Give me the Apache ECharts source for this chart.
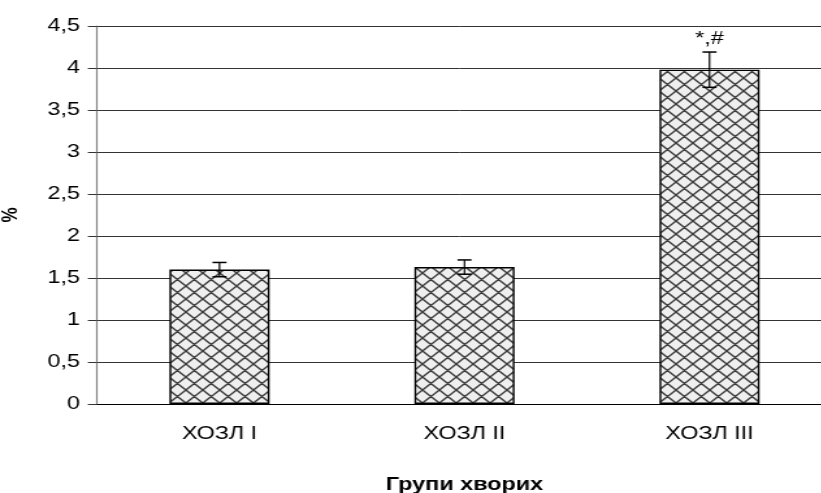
<!DOCTYPE html>
<html>
<head>
<meta charset="utf-8">
<script src="https://cdn.jsdelivr.net/npm/echarts@6/dist/echarts.min.js"></script>
<style>
  html, body { margin: 0; padding: 0; background: #fff; overflow: hidden; }
  /* the chart is laid out narrower and widened horizontally, giving the broad lettering */
  #chart { width: 632px; height: 493px; transform: scaleX(1.3); transform-origin: 0 0; }
</style>
</head>
<body>
<div id="chart"></div>
<script>
// Patient groups and mean percentages with their error margins
const categories = ['ХОЗЛ I', 'ХОЗЛ II', 'ХОЗЛ III'];
const values = [1.6, 1.63, 3.98];
const errors = [0.085, 0.085, 0.21];
const marks = ['', '', '*,#'];
const yTicks = [0, 0.5, 1, 1.5, 2, 2.5, 3, 3.5, 4, 4.5];

// Cross-hatch fill tile for the bars
function hatchTile() {
  const s = 13;
  const c = document.createElement('canvas');
  c.width = s; c.height = s;
  const g = c.getContext('2d');
  g.fillStyle = '#efefef';
  g.fillRect(0, 0, s, s);
  g.strokeStyle = '#3a3a3a';
  g.lineWidth = 1.4;
  g.beginPath();
  g.moveTo(0, 0); g.lineTo(s, s);
  g.moveTo(s, 0); g.lineTo(0, s);
  g.moveTo(-s / 2, s / 2); g.lineTo(s / 2, s * 1.5);
  g.moveTo(s / 2, -s / 2); g.lineTo(s * 1.5, s / 2);
  g.moveTo(s / 2, -s / 2); g.lineTo(-s / 2, s / 2);
  g.moveTo(s * 1.5, s / 2); g.lineTo(s / 2, s * 1.5);
  g.stroke();
  return c;
}

const chart = echarts.init(document.getElementById('chart'), null, { renderer: 'canvas' });
const font = 'Liberation Sans';

chart.setOption({
  animation: false,
  textStyle: { fontFamily: font },
  grid: { left: 74.6, top: 26, width: 565.4, height: 378, containLabel: false, outerBoundsMode: 'none' },
  xAxis: {
    type: 'category',
    data: categories,
    name: 'Групи хворих',
    nameLocation: 'middle',
    nameGap: 72,
    nameTextStyle: { fontFamily: font, fontSize: 18, fontWeight: 'bold', color: '#000' },
    axisLine: { lineStyle: { color: '#000', width: 1 } },
    axisTick: { show: false },
    axisLabel: { fontFamily: font, fontSize: 18, color: '#000', margin: 21 }
  },
  yAxis: {
    type: 'value',
    min: yTicks[0],
    max: yTicks[yTicks.length - 1],
    interval: 0.5,
    name: '%',
    nameLocation: 'middle',
    nameGap: 58,
    nameRotate: 90,
    nameTextStyle: { fontFamily: font, fontSize: 17, fontWeight: 'bold', color: '#000' },
    axisLine: { show: true, lineStyle: { color: '#808080', width: 1.2 } },
    axisTick: { show: true, inside: false, length: 7, lineStyle: { color: '#333' } },
    splitLine: { show: true, lineStyle: { color: '#333', width: 1 } },
    axisLabel: {
      fontFamily: font, fontSize: 18, color: '#000', margin: 13,
      formatter: v => String(v).replace('.', ',')
    }
  },
  series: [
    {
      type: 'bar',
      data: values,
      barWidth: 77,
      itemStyle: {
        color: { image: hatchTile(), repeat: 'repeat' },
        borderColor: '#000',
        borderWidth: 1.4
      },
      z: 2
    },
    {
      type: 'custom',
      data: values.map((v, i) => [i, v, errors[i]]),
      z: 5,
      renderItem: function (params, api) {
        const i = api.value(0);
        const v = api.value(1);
        const e = api.value(2);
        const hi = api.coord([i, v + e]);
        const lo = api.coord([i, v - e]);
        const x = hi[0];
        const half = 5.4;
        const vstyle = { stroke: '#000', lineWidth: 1.2 };
        const hstyle = { stroke: '#000', lineWidth: 1.5 };
        const children = [
          { type: 'line', shape: { x1: x, y1: hi[1], x2: x, y2: lo[1] }, style: vstyle },
          { type: 'line', shape: { x1: x - half, y1: hi[1], x2: x + half, y2: hi[1] }, style: hstyle },
          { type: 'line', shape: { x1: x - half, y1: lo[1], x2: x + half, y2: lo[1] }, style: hstyle }
        ];
        const m = marks[params.dataIndex];
        if (m) {
          children.push({
            type: 'text',
            style: {
              text: m, x: x, y: hi[1] - 4,
              align: 'center', verticalAlign: 'bottom',
              fontFamily: font, fontSize: 18, fill: '#000'
            }
          });
        }
        return { type: 'group', children };
      }
    }
  ]
});
</script>
</body>
</html>
